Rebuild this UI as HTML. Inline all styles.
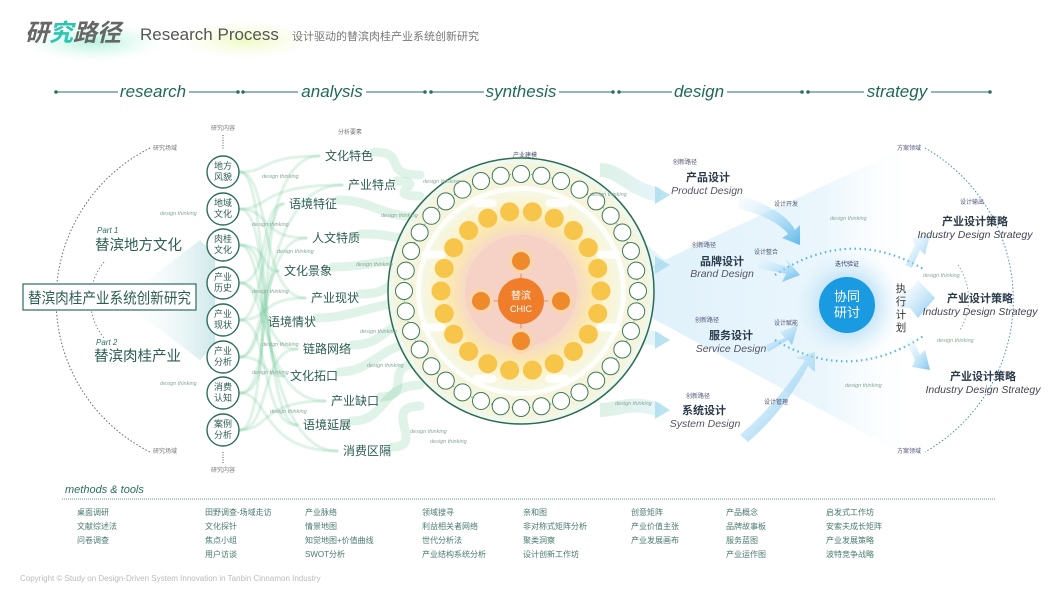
<!DOCTYPE html>
<html><head><meta charset="utf-8">
<style>
html,body{margin:0;padding:0;background:#fff;}
svg{display:block;}
text{font-family:"Liberation Sans","Noto Sans CJK SC",sans-serif;}
</style></head>
<body>
<svg id="s" width="1064" height="600" viewBox="0 0 1064 600" xmlns="http://www.w3.org/2000/svg">
<defs>
<radialGradient id="glow1" cx="0.5" cy="0.5" r="0.5">
<stop offset="0" stop-color="#7fe8c8" stop-opacity="0.7"/><stop offset="1" stop-color="#bff5e0" stop-opacity="0"/></radialGradient>
<radialGradient id="glow2" cx="0.5" cy="0.5" r="0.5">
<stop offset="0" stop-color="#e6f7a0" stop-opacity="0.8"/><stop offset="1" stop-color="#f2fbd0" stop-opacity="0"/></radialGradient>
<linearGradient id="cone" x1="0" y1="0" x2="1" y2="0">
<stop offset="0" stop-color="#d9eefa" stop-opacity="0.9"/><stop offset="0.7" stop-color="#e8f5fc" stop-opacity="0.9"/><stop offset="1" stop-color="#ffffff" stop-opacity="0"/></linearGradient>
<radialGradient id="halo" cx="0.5" cy="0.5" r="0.5">
<stop offset="0.5" stop-color="#c7e6f7"/><stop offset="1" stop-color="#e4f3fb" stop-opacity="0"/></radialGradient>
<radialGradient id="yel" cx="0.5" cy="0.5" r="0.5">
<stop offset="0.55" stop-color="#f7d9c8"/><stop offset="0.7" stop-color="#fbe7b0"/><stop offset="0.85" stop-color="#fdf3cf"/><stop offset="1" stop-color="#f3f8e6"/></radialGradient>
<linearGradient id="gout" x1="0" y1="0" x2="1" y2="0">
<stop offset="0" stop-color="#8fd0a8" stop-opacity="0.5"/><stop offset="1" stop-color="#a9dcef" stop-opacity="0.5"/></linearGradient>
<linearGradient id="barr" x1="0" y1="0" x2="1" y2="1">
<stop offset="0" stop-color="#e8f6fd" stop-opacity="0.2"/><stop offset="1" stop-color="#5fb8ea"/></linearGradient>
<linearGradient id="leftc" x1="0" y1="0" x2="1" y2="0">
<stop offset="0" stop-color="#ffffff" stop-opacity="0"/><stop offset="1" stop-color="#8cc9cf" stop-opacity="0.7"/></linearGradient>
</defs>

<!-- header -->
<ellipse cx="95" cy="42" rx="70" ry="20" fill="url(#glow1)" opacity="0.8"/>
<ellipse cx="245" cy="40" rx="70" ry="20" fill="url(#glow2)" opacity="0.8"/>
<text x="25" y="41" font-size="24" font-weight="bold" font-style="italic" fill="#666">研<tspan fill="#2cc6b0">究</tspan>路径</text>
<text x="140" y="40" font-size="17" fill="#555">Research Process</text>
<text x="292" y="40" font-size="11" fill="#777">设计驱动的替滨肉桂产业系统创新研究</text>

<!-- phase bar -->
<g stroke="#2a6f60" stroke-width="1" fill="#2a6f60">
<line x1="56" y1="92" x2="118" y2="92"/><line x1="189" y1="92" x2="238" y2="92"/>
<line x1="243" y1="92" x2="298" y2="92"/><line x1="366" y1="92" x2="425" y2="92"/>
<line x1="431" y1="92" x2="484" y2="92"/><line x1="559" y1="92" x2="613" y2="92"/>
<line x1="619" y1="92" x2="672" y2="92"/><line x1="727" y1="92" x2="802" y2="92"/>
<line x1="808" y1="92" x2="864" y2="92"/><line x1="931" y1="92" x2="990" y2="92"/>
<circle cx="56" cy="92" r="1.3"/><circle cx="238" cy="92" r="1.3"/><circle cx="243" cy="92" r="1.3"/><circle cx="425" cy="92" r="1.3"/><circle cx="431" cy="92" r="1.3"/><circle cx="613" cy="92" r="1.3"/><circle cx="619" cy="92" r="1.3"/><circle cx="802" cy="92" r="1.3"/><circle cx="808" cy="92" r="1.3"/><circle cx="990" cy="92" r="1.3"/>
</g>
<g font-size="17" font-style="italic" fill="#1f6a5b" text-anchor="middle">
<text x="153" y="97">research</text><text x="332" y="97">analysis</text><text x="521" y="97">synthesis</text><text x="699" y="97">design</text><text x="897" y="97">strategy</text>
</g>

<!-- left cone -->
<path d="M120 300 L200 240 L215 255 L215 345 L200 360 Z" fill="url(#leftc)" opacity="0.6"/>
<path d="M150 148 A170 170 0 0 0 150 452" fill="none" stroke="#666" stroke-width="1" stroke-dasharray="1.5 2"/>
<path d="M104 262 A60 60 0 0 0 104 338" fill="none" stroke="#888" stroke-width="1" stroke-dasharray="1.5 2"/>
<g font-size="6" fill="#777"><text x="153" y="150">研究场域</text><text x="153" y="453">研究场域</text>
<text x="211" y="130">研究内容</text><text x="211" y="472">研究内容</text><text x="338" y="134">分析要素</text></g>
<line x1="223" y1="135" x2="223" y2="150" stroke="#555" stroke-dasharray="1 1.5"/>
<line x1="223" y1="452" x2="223" y2="463" stroke="#555" stroke-dasharray="1 1.5"/>

<g id="bands" fill="none" stroke="#6fc795" stroke-linecap="round"></g>

<!-- main box -->
<rect x="23" y="284" width="173" height="26" fill="#fff" stroke="#2d6c5c" stroke-width="1.2"/>
<text x="28" y="303" font-size="15" fill="#2b5e52" textLength="163" lengthAdjust="spacingAndGlyphs">替滨肉桂产业系统创新研究</text>
<text x="97" y="233" font-size="8" font-style="italic" fill="#2b6e5e">Part 1</text>
<text x="95" y="250" font-size="14.5" fill="#2b5e52">替滨地方文化</text>
<text x="96" y="345" font-size="8" font-style="italic" fill="#2b6e5e">Part 2</text>
<text x="94" y="361" font-size="14.5" fill="#2b5e52">替滨肉桂产业</text>

<!-- analysis labels -->
<g font-size="12" fill="#2b5e52" text-anchor="middle">
<text x="349" y="160">文化特色</text><text x="372" y="189">产业特点</text><text x="313" y="208">语境特征</text>
<text x="336" y="242">人文特质</text><text x="308" y="275">文化景象</text><text x="335" y="302">产业现状</text>
<text x="292" y="326">语境情状</text><text x="327" y="353">链路网络</text><text x="314" y="380">文化拓口</text>
<text x="355" y="405">产业缺口</text><text x="327" y="429">语境延展</text><text x="367" y="455">消费区隔</text>
</g>

<!-- design cone -->
<path d="M600 290 L905 148 L920 300 L905 455 Z" fill="url(#cone)"/>
<g id="outb"></g>
<circle cx="847" cy="305" r="55" fill="url(#halo)"/>
<circle cx="847" cy="305" r="28" fill="#1a9ae0"/>
<text x="847" y="301" font-size="13" fill="#fff" text-anchor="middle">协同</text>
<text x="847" y="317" font-size="13" fill="#fff" text-anchor="middle">研讨</text>
<text x="847" y="266" font-size="6" fill="#336" text-anchor="middle">迭代验证</text>
<path d="M775 275 Q850 225 925 270" fill="none" stroke="#5ab3e6" stroke-width="2.2" stroke-dasharray="1.5 3.5"/>
<path d="M775 340 Q850 385 925 335" fill="none" stroke="#5ab3e6" stroke-width="2.2" stroke-dasharray="1.5 3.5"/>
<g fill="url(#barr)">
<path d="M740 195 Q785 210 795 230 L800 225 L800 245 L782 238 L788 234 Q775 218 738 208 Z"/>
<path d="M760 258 L790 268 L785 258 L800 275 L782 282 L786 274 L758 268 Z"/>
<path d="M765 345 L785 338 L780 332 L798 325 L792 345 L788 340 L768 352 Z"/>
<path d="M740 435 Q780 400 805 360 L795 358 L815 352 L815 372 L808 366 Q785 410 748 442 Z"/>
<path d="M910 290 L918 280 L935 298 L918 318 L910 308 L900 308 L900 290 Z" opacity="0.8"/>
<path d="M905 265 L915 245 L912 238 L930 235 L925 255 L920 250 L912 268 Z" opacity="0.8"/>
<path d="M905 340 L915 360 L912 367 L930 370 L925 350 L920 355 L912 337 Z" opacity="0.8"/>
</g>
<g font-size="11" fill="#2a3a4a" text-anchor="middle">
<text x="708" y="181" font-weight="bold">产品设计</text><text x="722" y="265" font-weight="bold">品牌设计</text>
<text x="731" y="339" font-weight="bold">服务设计</text><text x="704" y="414" font-weight="bold">系统设计</text>
</g>
<g font-size="10.5" fill="#556" font-style="italic" text-anchor="middle">
<text x="707" y="194">Product Design</text><text x="722" y="277">Brand Design</text>
<text x="731" y="352">Service Design</text><text x="705" y="427">System Design</text>
</g>
<g font-size="6" fill="#557">
<text x="673" y="164">创新路径</text><text x="692" y="247">创新路径</text><text x="695" y="322">创新路径</text><text x="686" y="398">创新路径</text>
<text x="774" y="206">设计开发</text><text x="754" y="254">设计整合</text><text x="774" y="325">设计赋能</text><text x="764" y="404">设计管理</text>
<text x="960" y="204">设计输出</text><text x="897" y="150">方案领域</text><text x="897" y="453">方案领域</text>
</g>
<g font-size="10.5" fill="#333" text-anchor="middle">
<text x="901" y="292">执</text><text x="901" y="305">行</text><text x="901" y="318">计</text><text x="901" y="331">划</text></g>
<path d="M925 148 A175 175 0 0 1 925 452" fill="none" stroke="#4a8fb0" stroke-width="1" stroke-dasharray="1.5 2"/>
<path d="M958 265 A60 60 0 0 1 960 330" fill="none" stroke="#8aa" stroke-width="1" stroke-dasharray="1.5 2"/>
<g font-size="11" font-weight="bold" fill="#2a3a4a" text-anchor="middle">
<text x="975" y="225">产业设计策略</text><text x="980" y="302">产业设计策略</text><text x="983" y="380">产业设计策略</text></g>
<g font-size="10.5" font-style="italic" fill="#445" text-anchor="middle">
<text x="975" y="238">Industry Design Strategy</text><text x="980" y="315">Industry Design Strategy</text><text x="983" y="393">Industry Design Strategy</text></g>

<!-- central circle -->
<circle cx="521" cy="291" r="133" fill="#eef8ee"/>
<circle cx="521" cy="291" r="128" fill="#f7f3d8" opacity="0.8"/>
<circle cx="521" cy="291" r="105" fill="#ffffff" opacity="0.85"/>
<circle cx="521" cy="291" r="100" fill="url(#yel)"/>
<circle cx="521" cy="291" r="133" fill="none" stroke="#2c6b4f" stroke-width="1.5"/>
<circle cx="521" cy="291" r="117" fill="none" stroke="#5a9a6a" stroke-width="1" stroke-dasharray="1 2"/>
<circle cx="521" cy="291" r="56" fill="#f5cfc4" opacity="0.7"/>
<g id="rings"></g>
<circle cx="521" cy="301" r="23" fill="#ef7d2a"/>
<text x="521" y="299" font-size="10" fill="#fff" text-anchor="middle">替滨</text>
<text x="521" y="312" font-size="9" fill="#fff" text-anchor="middle">CHIC</text>
<text x="513" y="157" font-size="6" fill="#557">产业建模</text>

<g font-size="5.5" font-style="italic" fill="#8a9">
<text x="160" y="215">design thinking</text><text x="160" y="385">design thinking</text>
<text x="262" y="178">design thinking</text><text x="252" y="226">design thinking</text><text x="277" y="253">design thinking</text>
<text x="252" y="293">design thinking</text><text x="262" y="346">design thinking</text><text x="252" y="374">design thinking</text>
<text x="270" y="413">design thinking</text><text x="423" y="183">design thinking</text><text x="381" y="217">design thinking</text>
<text x="356" y="266">design thinking</text><text x="360" y="333">design thinking</text><text x="367" y="367">design thinking</text>
<text x="410" y="433">design thinking</text><text x="430" y="443">design thinking</text><text x="590" y="196">design thinking</text>
<text x="615" y="405">design thinking</text><text x="830" y="220">design thinking</text><text x="845" y="387">design thinking</text>
<text x="923" y="277">design thinking</text><text x="937" y="342">design thinking</text>
</g>

<!-- methods -->
<text x="65" y="493" font-size="11" font-style="italic" fill="#2a6f60">methods &amp; tools</text>
<line x1="62" y1="499" x2="996" y2="499" stroke="#6a9a90" stroke-width="1" stroke-dasharray="1 1"/>
<g font-size="8" fill="#4a7a70">
<text x="77" y="515">桌面调研</text><text x="77" y="529">文献综述法</text><text x="77" y="543">问卷调查</text>
<text x="205" y="515">田野调查-场域走访</text><text x="205" y="529">文化探针</text><text x="205" y="543">焦点小组</text><text x="205" y="557">用户访谈</text>
<text x="305" y="515">产业脉络</text><text x="305" y="529">情景地图</text><text x="305" y="543">知觉地图+价值曲线</text><text x="305" y="557">SWOT分析</text>
<text x="422" y="515">领域搜寻</text><text x="422" y="529">利益相关者网络</text><text x="422" y="543">世代分析法</text><text x="422" y="557">产业结构系统分析</text>
<text x="523" y="515">亲和图</text><text x="523" y="529">非对称式矩阵分析</text><text x="523" y="543">聚类洞察</text><text x="523" y="557">设计创新工作坊</text>
<text x="631" y="515">创意矩阵</text><text x="631" y="529">产业价值主张</text><text x="631" y="543">产业发展画布</text>
<text x="726" y="515">产品概念</text><text x="726" y="529">品牌故事板</text><text x="726" y="543">服务蓝图</text><text x="726" y="557">产业运作图</text>
<text x="826" y="515">启发式工作坊</text><text x="826" y="529">安索夫成长矩阵</text><text x="826" y="543">产业发展策略</text><text x="826" y="557">波特竞争战略</text>
</g>
<text x="20" y="581" font-size="8" fill="#bbb">Copyright © Study on Design-Driven System Innovation in Tanbin Cinnamon Industry</text>

<g font-size="9" fill="#2b5e52" text-anchor="middle">
<g fill="#fff" stroke="#2d6c5c" stroke-width="1.4">
<circle cx="223" cy="172" r="16"/><circle cx="223" cy="209" r="16"/><circle cx="223" cy="245" r="16"/><circle cx="223" cy="283" r="16"/>
<circle cx="223" cy="320" r="16"/><circle cx="223" cy="357" r="16"/><circle cx="223" cy="393" r="16"/><circle cx="223" cy="430" r="16"/></g>
<text x="223" y="169">地方</text><text x="223" y="180">风貌</text>
<text x="223" y="206">地域</text><text x="223" y="217">文化</text>
<text x="223" y="242">肉桂</text><text x="223" y="253">文化</text>
<text x="223" y="280">产业</text><text x="223" y="291">历史</text>
<text x="223" y="317">产业</text><text x="223" y="328">现状</text>
<text x="223" y="354">产业</text><text x="223" y="365">分析</text>
<text x="223" y="390">消费</text><text x="223" y="401">认知</text>
<text x="223" y="427">案例</text><text x="223" y="438">分析</text>
</g>
</svg>
<script>
(function(){
var NS="http://www.w3.org/2000/svg";
function el(t,a,p){var e=document.createElementNS(NS,t);for(var k in a)e.setAttribute(k,a[k]);p.appendChild(e);return e;}
var bands=document.getElementById('bands');
var ys=[172,209,245,283,320,357,393,430];
var ly=[156,185,204,238,271,298,322,349,376,401,425,451];
var lx=[349,372,313,336,308,335,292,327,314,355,327,367];
for(var i=0;i<ys.length;i++){for(var j=0;j<3;j++){var t=(i*3+j*5)%12;
el('path',{d:'M240 '+ys[i]+' C270 '+ys[i]+' 260 '+ly[t]+' '+(lx[t]-30)+' '+ly[t],'stroke-width':3,opacity:0.22},bands);}}
for(var k=0;k<12;k++){var ty=175+k*21;
el('path',{d:'M'+(lx[k]+25)+' '+(ly[k]-4)+' C'+(lx[k]+60)+' '+(ly[k]-4)+' 380 '+ty+' 420 '+ty,'stroke-width':9,opacity:0.22},bands);}
var ob=document.getElementById('outb');
var tg=[[190,195],[240,265],[330,340],[400,410]];
var src=[170,230,350,410];
for(var m=0;m<4;m++){
el('path',{d:'M600 '+src[m]+' C620 '+src[m]+' 630 '+tg[m][0]+' 660 '+tg[m][1],fill:'none',stroke:'url(#gout)','stroke-width':14,opacity:0.6},ob);
var y=tg[m][1];el('path',{d:'M655 '+(y-9)+' L670 '+y+' L655 '+(y+9)+' Z',fill:'#a9dcef',opacity:0.8},ob);}
var rings=document.getElementById('rings');
var cx=521,cy=291;
for(var a=0;a<36;a++){var th=a/36*2*Math.PI;
el('circle',{cx:cx+117*Math.cos(th),cy:cy+117*Math.sin(th),r:8.5,fill:'#fff',stroke:'#3d7a5a','stroke-width':1},rings);}
for(var b=0;b<8;b++){var th2=(b+0.5)/8*2*Math.PI;
el('rect',{x:cx+95*Math.cos(th2)-12,y:cy+95*Math.sin(th2)-4,width:24,height:8,rx:4,fill:'#fff',opacity:0.9},rings);}
for(var c=0;c<22;c++){var th3=c/22*2*Math.PI;
el('circle',{cx:cx+80*Math.cos(th3),cy:cy+80*Math.sin(th3),r:9.5,fill:'#f6c54a'},rings);}
var pts=[[0,-40],[40,0],[0,40],[-40,0]];
for(var d=0;d<4;d++){
el('line',{x1:cx,y1:cy+10,x2:cx+pts[d][0]*0.7,y2:cy+10+pts[d][1]*0.7,stroke:'#e07a3a','stroke-width':0.8},rings);
el('circle',{cx:cx+pts[d][0],cy:cy+10+pts[d][1],r:13,fill:'#fbd6a8',opacity:0.7},rings);
el('circle',{cx:cx+pts[d][0],cy:cy+10+pts[d][1],r:9,fill:'#ef8a2a'},rings);}
})();
</script>
</body></html>
